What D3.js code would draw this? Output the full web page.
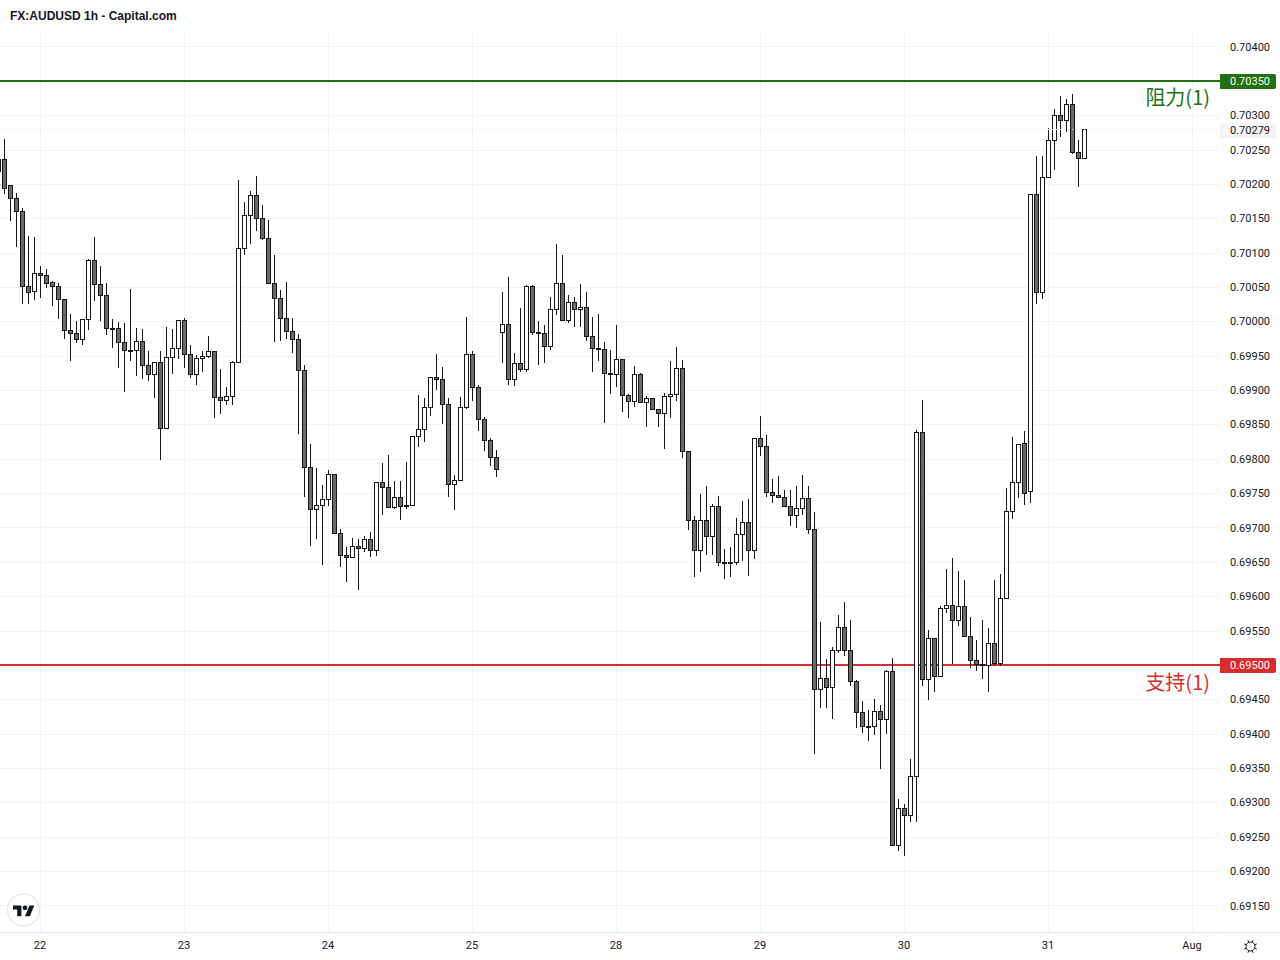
<!DOCTYPE html>
<html>
<head>
<meta charset="utf-8">
<style>
    html, body { margin: 0; padding: 0; background: #fff; overflow: hidden; }
    text { font-family: Roboto, "Liberation Sans", sans-serif; }
</style>
<script src="https://cdnjs.cloudflare.com/ajax/libs/d3/7.8.5/d3.min.js"></script>
</head>
<body>
<svg id="chart" width="1280" height="960"></svg>
<script>
// prices are kept in 1e-5 units, one entry per hourly bar
var opens = [70219,70236,70198,70179,70160,70051,70044,70070,70067,70057,70051,70032,69987,69983,69974,70003,70089,70054,70038,69990,69990,69970,69958,69958,69971,69936,69923,69940,69844,69948,69961,70001,69952,69923,69946,69949,69956,69890,69885,69891,69940,70106,70154,70183,70150,70121,70055,70034,70004,69986,69974,69929,69788,69727,69732,69741,69777,69692,69660,69657,69673,69670,69683,69667,69766,69759,69729,69744,69732,69732,69833,69843,69875,69919,69916,69879,69763,69769,69875,69952,69904,69857,69827,69802,69984,69996,69916,69939,69930,70051,69984,69983,69964,70018,70055,70002,70028,70018,70021,69978,69961,69959,69924,69923,69945,69892,69884,69923,69882,69888,69872,69866,69891,69894,69932,69811,69711,69667,69711,69687,69731,69650,69650,69649,69690,69708,69667,69830,69818,69751,69747,69744,69731,69718,69728,69743,69697,69465,69481,69467,69521,69555,69521,69476,69431,69411,69411,69433,69421,69491,69238,69291,69281,69338,69839,69479,69539,69484,69582,69587,69565,69585,69542,69507,69501,69500,69532,69502,69597,69724,69766,69822,69752,70185,70042,70210,70263,70300,70293,70316,70246,70237]
var highs = [70236,70266,70198,70188,70166,70125,70124,70081,70077,70060,70057,70034,70012,70001,70004,70092,70124,70081,70057,70004,70000,69999,70048,69992,69990,69958,69942,69958,69993,69990,70001,70006,69967,69952,69958,69980,69956,69932,69905,69943,70207,70175,70190,70212,70171,70148,70097,70047,70059,70006,69983,69938,69823,69788,69763,69785,69779,69699,69673,69686,69685,69689,69695,69766,69795,69807,69769,69769,69797,69833,69894,69890,69919,69954,69934,69889,69778,69891,70008,69958,69908,69862,69831,69814,70044,70066,69955,70021,70054,70054,70001,69996,70036,70113,70097,70039,70037,70056,70044,70008,70011,69971,69960,69995,69946,69895,69936,69926,69893,69888,69872,69897,69943,69964,69945,69811,69718,69750,69762,69735,69747,69670,69673,69715,69740,69743,69830,69864,69835,69772,69776,69755,69756,69761,69777,69761,69724,69564,69510,69527,69574,69593,69567,69479,69449,69435,69452,69443,69494,69511,69306,69299,69364,69843,69886,69552,69539,69587,69641,69656,69638,69625,69571,69538,69567,69555,69624,69634,69759,69833,69821,69842,70186,70241,70241,70283,70310,70329,70324,70332,70265,70280]
var lows = [70219,70186,70147,70109,70026,70026,70032,70035,70049,70024,70004,69975,69944,69970,69966,69988,70030,70002,69981,69962,69933,69898,69943,69921,69917,69914,69889,69799,69844,69924,69946,69933,69918,69908,69928,69947,69860,69866,69880,69880,69940,70097,70113,70132,70119,70055,69971,69973,69975,69955,69837,69745,69674,69684,69646,69732,69692,69643,69621,69657,69610,69665,69658,69659,69719,69729,69728,69712,69728,69732,69818,69825,69863,69901,69851,69745,69726,69769,69873,69885,69842,69812,69790,69774,69940,69908,69907,69927,69927,69981,69937,69941,69960,70010,70002,69998,69993,69993,69972,69927,69943,69853,69896,69905,69869,69860,69877,69882,69848,69872,69848,69815,69860,69885,69802,69698,69629,69636,69661,69661,69645,69626,69629,69646,69653,69631,69655,69805,69746,69736,69744,69731,69703,69701,69719,69691,69371,69439,69439,69423,69518,69514,69471,69409,69402,69391,69399,69349,69400,69238,69230,69223,69272,69273,69471,69450,69461,69484,69576,69503,69557,69542,69496,69492,69480,69461,69501,69500,69597,69713,69744,69734,69736,70026,70034,70210,70221,70269,70277,70244,70196,70237]
var closes = [70236,70194,70179,70160,70051,70043,70070,70067,70056,70051,70032,69987,69982,69974,70003,70089,70054,70038,69990,69989,69970,69958,69957,69971,69936,69923,69940,69844,69948,69961,70001,69952,69923,69946,69949,69956,69890,69885,69891,69940,70106,70154,70183,70150,70121,70055,70034,70004,69986,69974,69929,69788,69727,69732,69741,69777,69692,69660,69657,69673,69670,69683,69667,69766,69759,69729,69744,69731,69731,69833,69843,69875,69919,69916,69879,69763,69769,69875,69952,69904,69857,69827,69802,69785,69996,69916,69939,69930,70051,69984,69983,69964,70018,70055,70002,70028,70018,70021,69978,69961,69959,69924,69923,69945,69892,69884,69923,69882,69888,69872,69866,69891,69894,69932,69811,69711,69667,69711,69687,69731,69649,69649,69649,69690,69708,69667,69830,69818,69751,69747,69744,69731,69718,69728,69743,69697,69465,69481,69467,69521,69555,69521,69476,69431,69411,69410,69433,69421,69491,69238,69291,69281,69338,69839,69479,69539,69484,69582,69587,69565,69585,69542,69507,69501,69500,69532,69502,69597,69724,69766,69821,69750,70185,70042,70210,70264,70300,70293,70316,70246,70237,70279]

var dayLabels = ['22', '23', '24', '25', '28', '29', '30', '31', 'Aug']
var dayBars = [7, 31, 55, 79, 103, 127, 151, 175, 199]
var priceTicks = [0.70400, 0.70350, 0.70300, 0.70250, 0.70200, 0.70150, 0.70100, 0.70050, 0.70000, 0.69950, 0.69900, 0.69850, 0.69800, 0.69750, 0.69700, 0.69650, 0.69600, 0.69550, 0.69500, 0.69450, 0.69400, 0.69350, 0.69300, 0.69250, 0.69200, 0.69150]

var resistance = 0.70350
var support = 0.69500
var lastPrice = 0.70279

var plotRight = 1220
var axisColor = '#131722'
var gridColor = '#f0f3fa'
var upFill = '#ffffff'
var downFill = '#6a6a6a'
var wickColor = '#161616'
var greenColor = '#22700f'
var redColor = '#d92d2d'

var svg = d3.select('#chart')

var xScale = d3.scaleLinear().domain([0, 199]).range([-1.5, 1192.5])
var yScale = d3.scaleLinear().domain([0.69150, 0.70400]).range([905.5, 46.5])

function snap(y) {
    return Math.floor(y + 0.17) + 0.5
}

var rows = opens.map(function (d, i) {
    return { i: i, open: d / 1e5, high: highs[i] / 1e5, low: lows[i] / 1e5, close: closes[i] / 1e5 }
})

// grid
var grid = svg.append('g').attr('shape-rendering', 'crispEdges')
grid.selectAll('.h').data(priceTicks).enter().append('line')
    .attr('x1', 0).attr('x2', plotRight)
    .attr('y1', function (d) { return snap(yScale(d) + 0.28) })
    .attr('y2', function (d) { return snap(yScale(d) + 0.28) })
    .style('stroke', gridColor)
grid.selectAll('.v').data(dayBars).enter().append('line')
    .attr('x1', function (d) { return xScale(d) }).attr('x2', function (d) { return xScale(d) })
    .attr('y1', 31).attr('y2', 932)
    .style('stroke', gridColor)

// resistance and support lines go under the candles
var levels = [{ p: resistance, c: greenColor }, { p: support, c: redColor }]
svg.selectAll('.level').data(levels).enter().append('line')
    .attr('x1', 0).attr('x2', plotRight)
    .attr('y1', function (d) { return Math.round(yScale(d.p)) })
    .attr('y2', function (d) { return Math.round(yScale(d.p)) })
    .attr('shape-rendering', 'crispEdges')
    .style('stroke', function (d) { return d.c })
    .style('stroke-width', 2)

// candles
var candles = svg.append('g').attr('shape-rendering', 'crispEdges')
candles.selectAll('.wick').data(rows).enter().append('line')
    .attr('x1', function (d) { return xScale(d.i) })
    .attr('x2', function (d) { return xScale(d.i) })
    .attr('y1', function (d) { return snap(yScale(d.high)) })
    .attr('y2', function (d) { return snap(yScale(d.low)) })
    .style('stroke', wickColor)
candles.selectAll('.body').data(rows).enter().append('rect')
    .attr('x', function (d) { return xScale(d.i) - 2 })
    .attr('width', 4)
    .attr('y', function (d) { return snap(yScale(Math.max(d.open, d.close))) })
    .attr('height', function (d) {
        return Math.max(1, snap(yScale(Math.min(d.open, d.close))) - snap(yScale(Math.max(d.open, d.close))))
    })
    .style('fill', function (d) { return d.close >= d.open ? upFill : downFill })
    .style('stroke', wickColor)

// last price dotted line
svg.append('line')
    .attr('x1', 0).attr('x2', plotRight)
    .attr('y1', snap(yScale(lastPrice))).attr('y2', snap(yScale(lastPrice)))
    .attr('shape-rendering', 'crispEdges')
    .style('stroke', '#dcdcdc')
    .style('stroke-dasharray', '1,3')

// axes
var priceAxis = d3.axisRight(yScale)
    .tickValues(priceTicks.filter(function (d) { return d !== resistance && d !== support }))
    .tickFormat(d3.format('.5f'))
    .tickSize(0)
    .tickPadding(0)
var priceG = svg.append('g').attr('transform', 'translate(1230,0)').call(priceAxis)
priceG.select('.domain').remove()
priceG.selectAll('text').style('font-size', '11px').style('font-family', 'Roboto').style('fill', axisColor)

var timeAxis = d3.axisBottom(xScale)
    .tickValues(dayBars)
    .tickFormat(function (d, i) { return dayLabels[i] })
    .tickSize(0)
    .tickPadding(0)
var timeG = svg.append('g').attr('transform', 'translate(-1,941)').call(timeAxis)
timeG.select('.domain').remove()
timeG.selectAll('text').style('font-size', '11px').style('font-family', 'Roboto').style('fill', axisColor)

svg.append('line').attr('x1', 0).attr('x2', plotRight).attr('y1', 932.5).attr('y2', 932.5)
    .attr('shape-rendering', 'crispEdges').style('stroke', '#e0e3eb')
svg.append('line').attr('x1', 1221).attr('x2', 1280).attr('y1', 932.5).attr('y2', 932.5)
    .attr('shape-rendering', 'crispEdges').style('stroke', '#e0e3eb')

// price tags on the right
var tags = [
    { p: lastPrice, bg: '#f5f5f5', fg: '#131722' },
    { p: resistance, bg: greenColor, fg: '#ffffff' },
    { p: support, bg: redColor, fg: '#ffffff' }
]
var tagG = svg.selectAll('.tag').data(tags).enter().append('g')
tagG.append('path')
    .attr('d', function (d) {
        var t = Math.round(yScale(d.p)) - 7
        return 'M1220,' + t + 'H1274a2,2 0 0 1 2,2V' + (t + 13) + 'a2,2 0 0 1 -2,2H1220Z'
    })
    .style('fill', function (d) { return d.bg })
tagG.append('text')
    .attr('x', 1230)
    .attr('y', function (d) { return yScale(d.p) + 4.5 })
    .style('font-size', '11px')
    .style('font-family', 'Roboto')
    .style('fill', function (d) { return d.fg })
    .text(function (d) { return d.p.toFixed(5) })

// level notes
var notes = [
    { t: '阻力(1)', p: resistance, c: greenColor, dy: 24 },
    { t: '支持(1)', p: support, c: redColor, dy: 25 }
]
svg.selectAll('.note').data(notes).enter().append('text')
    .attr('x', 1210)
    .attr('y', function (d) { return yScale(d.p) + d.dy })
    .attr('text-anchor', 'end')
    .style('font-family', '"Noto Sans CJK SC", Roboto, sans-serif')
    .style('font-size', '20px')
    .style('font-weight', 400)
    .style('fill', function (d) { return d.c })
    .text(function (d) { return d.t })

// title
svg.append('text')
    .attr('x', 10).attr('y', 20)
    .style('font-family', '"Liberation Sans", Arial, sans-serif')
    .style('font-size', '12px')
    .style('font-weight', 700)
    .style('fill', '#131722')
    .text('FX:AUDUSD 1h - Capital.com')

// logo badge
svg.append('circle').attr('cx', 23.5).attr('cy', 910).attr('r', 16)
    .style('fill', '#fff').style('stroke', '#e9e9ec').style('stroke-width', 1.5)
var logo = svg.append('g').attr('transform', 'translate(13,903) scale(0.6)').style('fill', '#131722')
logo.append('path').attr('d', 'M14 22H7V11H0V4h14v18zM28 22h-8l7.5-18h8L28 22z')
logo.append('circle').attr('cx', 20).attr('cy', 8).attr('r', 4)

// settings icon
var sun = svg.append('g').attr('transform', 'translate(1250.5,946.5)')
    .style('stroke', '#131722').style('fill', 'none')
sun.append('circle').attr('r', 4.5)
d3.range(8).forEach(function (i) {
    var a = i * Math.PI / 4 + Math.PI / 8
    sun.append('line')
        .attr('x1', 4.5 * Math.cos(a)).attr('y1', 4.5 * Math.sin(a))
        .attr('x2', 6.8 * Math.cos(a)).attr('y2', 6.8 * Math.sin(a))
})
</script>
</body>
</html>
